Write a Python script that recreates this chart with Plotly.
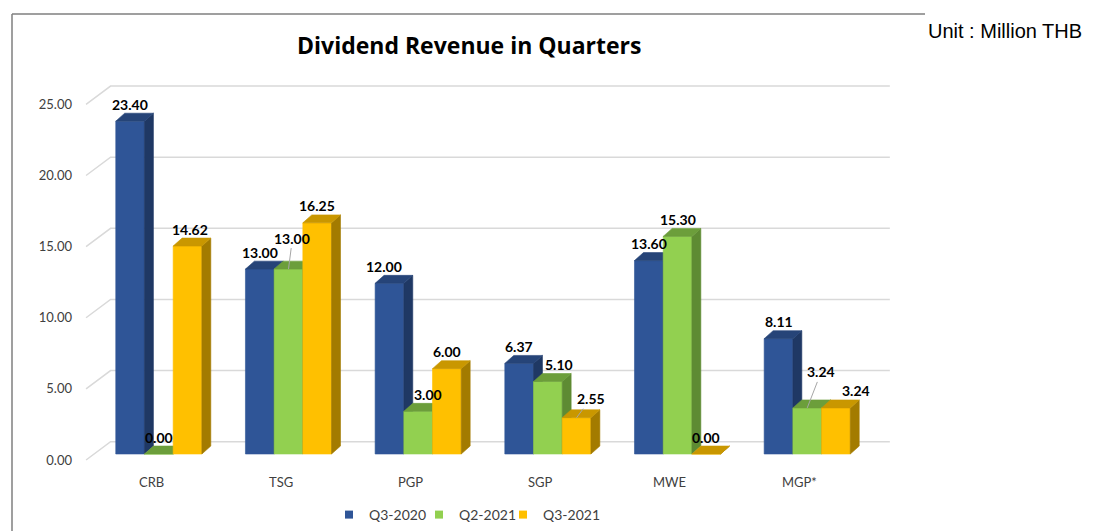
import plotly.graph_objects as go

# ---------------- data ----------------
categories = ["CRB", "TSG", "PGP", "SGP", "MWE", "MGP*"]
series_names = ["Q3-2020", "Q2-2021", "Q3-2021"]
q3_2020 = [23.40, 13.00, 12.00, 6.37, 13.60, 8.11]
q2_2021 = [0.00, 13.00, 3.00, 5.10, 15.30, 3.24]
q3_2021 = [14.62, 16.25, 6.00, 2.55, 0.00, 3.24]
y_ticks = [0, 5, 10, 15, 20, 25]

# ---------------- style ----------------
front_colors = ["#2F5597", "#92D050", "#FFC000"]
side_colors = ["#1F3864", "#5E8B33", "#A37B00"]
top_colors = ["#264478", "#6C9E3B", "#C99700"]
FONT = "Lato"

W, H = 1077, 523          # page body has an 8px margin
L, T, PW, PH = 73, 62, 817, 461


def px(xr):   # reference pixel x -> paper
    return (xr - 8 - L) / PW


def py(yr):   # reference pixel y -> paper
    return (T + PH - (yr - 8)) / PH


series = [q3_2020, q2_2021, q3_2021]
bw = 0.2213        # bar width (x data units)
dx, dy = 0.069, 0.56   # bar depth offset
gx0, gy0 = -0.561, -0.42   # floor front-left offset
gxb, gyb = -0.372, 0.865   # back wall offset
gx1 = 5.637

fig = go.Figure()

# back-wall gridlines with 3D diagonal
gxs, gys = [], []
for t in y_ticks:
    gxs += [gx0, gxb, gx1, None]
    gys += [t + gy0, t + gyb, t + gyb, None]
fig.add_trace(go.Scatter(x=gxs, y=gys, mode="lines", line=dict(color="#D9D9D9", width=1.5),
                         showlegend=False, hoverinfo="skip"))

# 3D bars
for i, cat in enumerate(categories):
    for s, vals in enumerate(series):
        v = vals[i]
        xl = i + (s - 1.5) * bw
        xr = xl + bw
        polys = [
            ([xl, xr, xr, xl, xl], [0, 0, v, v, 0], front_colors[s]),
            ([xr, xr + dx, xr + dx, xr, xr], [0, dy, v + dy, v, 0], side_colors[s]),
            ([xl, xr, xr + dx, xl + dx, xl], [v, v, v + dy, v + dy, v], top_colors[s]),
        ]
        for pxs, pys, c in polys:
            fig.add_trace(go.Scatter(x=pxs, y=pys, mode="lines", fill="toself", fillcolor=c,
                                     line=dict(color=c, width=0.6), showlegend=False,
                                     hoverinfo="skip"))

# legend entries (one legend box per series for exact placement)
legend_keys = ["legend", "legend2", "legend3"]
legend_left_x = [329, 419, 503]
for s, name in enumerate(series_names):
    fig.add_trace(go.Scatter(x=[None], y=[None], mode="markers", name=name, legend=legend_keys[s],
                             marker=dict(symbol="square", size=8, color=front_colors[s])))

# category labels
for i, cat in enumerate(categories):
    fig.add_annotation(x=i - 0.06, y=-1.968, text=cat, showarrow=False, yanchor="middle",
                       font=dict(family=FONT, size=13, color="#404040"))

# data labels
label_xshift = {(2, 1): 10, (3, 1): 11, (5, 2): 20, (2, 0): -5, (0, 2): 2}
leader = {(1, 1): (4, -31), (3, 2): (14, -19), (5, 1): (14, -36)}
for i in range(len(categories)):
    for s, vals in enumerate(series):
        v = vals[i]
        xc = i + (s - 1) * bw
        txt = f"{v:.2f}"
        if (i, s) in leader:
            ax, ay = leader[(i, s)]
            fig.add_annotation(x=xc, y=v, text=txt, showarrow=True, arrowhead=0, arrowwidth=1,
                               arrowcolor="#A6A6A6", ax=ax, ay=ay, standoff=0,
                               font=dict(family=FONT, size=14, color="#000000", weight="bold"))
        else:
            fig.add_annotation(x=xc, y=v, text=txt, showarrow=False, yanchor="middle",
                               xshift=label_xshift.get((i, s), 0), yshift=17,
                               font=dict(family=FONT, size=14, color="#000000", weight="bold"))

# title & unit
fig.add_annotation(text="<b>Dividend Revenue in Quarters</b>", xref="paper", yref="paper",
                   x=px(469), y=py(45), showarrow=False, xanchor="center", yanchor="middle",
                   font=dict(family="Open Sans", size=23, color="#000000"))
fig.add_annotation(text="Unit : Million THB", xref="paper", yref="paper",
                   x=px(1084), y=py(31), showarrow=False, xanchor="right", yanchor="middle",
                   font=dict(family="Liberation Sans", size=20, color="#000000"))

# frame lines
fig.add_shape(type="line", xref="paper", yref="paper", x0=px(12), x1=px(12),
              y0=py(14), y1=-0.1, line=dict(color="#7F7F7F", width=1.5))
fig.add_shape(type="line", xref="paper", yref="paper", x0=px(12), x1=px(925),
              y0=py(14), y1=py(14), line=dict(color="#7F7F7F", width=1.5))

legend_common = dict(orientation="h", xanchor="left", yanchor="bottom", y=0,
                     bgcolor="rgba(0,0,0,0)", font=dict(family=FONT, size=14, color="#404040"))
fig.update_layout(
    width=W, height=H,
    margin=dict(l=L, r=W - L - PW, t=T, b=H - T - PH),
    paper_bgcolor="white", plot_bgcolor="white",
    showlegend=True,
    legend=dict(x=px(legend_left_x[0]), **legend_common),
    legend2=dict(x=px(legend_left_x[1]), **legend_common),
    legend3=dict(x=px(legend_left_x[2]), **legend_common),
    xaxis=dict(range=[-0.6, 5.7], showgrid=False, zeroline=False, showline=False,
               showticklabels=False, ticks=""),
    yaxis=dict(range=[-5.413, 26.997], showgrid=False, zeroline=False, showline=False,
               tickmode="array", tickvals=y_ticks, tickformat=".2f", ticks="",
               ticklabelshift=6, ticklabelstandoff=8,
               tickfont=dict(family=FONT, size=13, color="#404040")),
)

fig.write_html("out.html")
